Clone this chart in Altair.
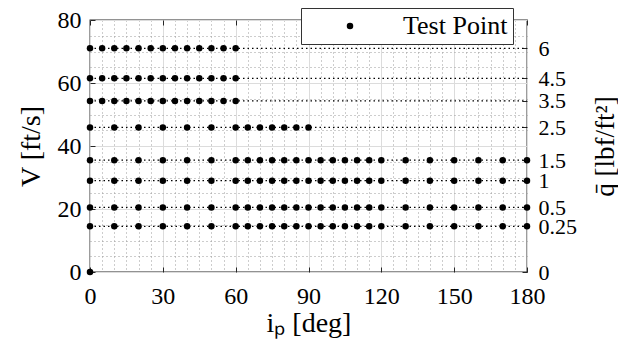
import altair as alt
import pandas as pd

# ---- data ----
q_levels = [0, 0.25, 0.5, 1, 1.5, 2.5, 3.5, 4.5, 6]
q_labels = ["0", "0.25", "0.5", "1", "1.5", "2.5", "3.5", "4.5", "6"]
V_levels = [0, 14.5, 20.5, 29.0, 35.5, 45.9, 54.3, 61.5, 71.0]

angles_high = [0, 5, 10, 15, 20, 25, 30, 35, 40, 45, 50, 55, 60]
angles_mid = [0, 10, 20, 30, 40, 50, 60, 65, 70, 75, 80, 85, 90]
angles_low = [0, 10, 20, 30, 40, 50, 60, 65, 70, 75, 80, 85, 90, 95, 100,
              105, 110, 115, 120, 130, 140, 150, 160, 170, 180]
angles_zero = [0]

row_angles = [angles_zero, angles_low, angles_low, angles_low, angles_low,
              angles_mid, angles_high, angles_high, angles_high]

x_major = [0, 30, 60, 90, 120, 150, 180]
y_major = [0, 20, 40, 60, 80]
x_minor = [5, 10, 15, 20, 25, 35, 40, 45, 50, 55, 65, 70, 75, 80, 85, 95, 100,
           105, 110, 115, 125, 130, 135, 140, 145, 155, 160, 165, 170, 175]
y_minor = [5, 10, 15, 25, 30, 35, 45, 50, 55, 65, 70, 75]

# ---- tables ----
pts = []
for V, angs in zip(V_levels, row_angles):
    for a in angs:
        pts.append({"ip": a, "V": V, "series": "Test Point"})
pts_df = pd.DataFrame(pts)

lines_df = pd.DataFrame({"V": V_levels[1:], "x0": [0] * 8, "x1": [180] * 8})

W, H = 437, 252
FONT = "Liberation Serif"
DARK = "#262626"
LBL = 24
TTL = 28

xs = alt.Scale(domain=[0, 180], nice=False, zero=False)
ys = alt.Scale(domain=[0, 80], nice=False, zero=False)

def blank_axis(**kw):
    base = dict(labels=False, ticks=False, domain=False, title=None, grid=False)
    base.update(kw)
    return alt.Axis(**base)

# minor grid
minor = alt.Chart(pts_df).mark_point(opacity=0).encode(
    x=alt.X("ip:Q", scale=xs, axis=blank_axis(grid=True, values=x_minor, gridDash=[1, 3],
                                              gridColor="#9a9a9a", gridWidth=1, orient="bottom")),
    y=alt.Y("V:Q", scale=ys, axis=blank_axis(grid=True, values=y_minor, gridDash=[1, 3],
                                             gridColor="#9a9a9a", gridWidth=1, orient="left")),
)

# major grid
major = alt.Chart(pts_df).mark_point(opacity=0).encode(
    x=alt.X("ip:Q", scale=xs, axis=blank_axis(grid=True, values=x_major,
                                              gridColor="#dcdcdc", gridWidth=1, orient="bottom")),
    y=alt.Y("V:Q", scale=ys, axis=blank_axis(grid=True, values=y_major,
                                             gridColor="#dcdcdc", gridWidth=1, orient="left")),
)

# dotted q-lines, plus inward ticks on bottom and left
qlines = alt.Chart(lines_df).mark_rule(color="black", strokeDash=[1.5, 3], strokeWidth=1.3).encode(
    x=alt.X("x0:Q", scale=xs, axis=blank_axis(ticks=True, values=x_major, orient="top",
                                              offset=-H, tickSize=5, tickColor=DARK)),
    x2="x1:Q",
    y=alt.Y("V:Q", scale=ys, axis=blank_axis(ticks=True, values=y_major, orient="right",
                                             offset=-W, tickSize=5, tickColor=DARK)),
)

# test points with labelled axes and legend
points = alt.Chart(pts_df).mark_circle(size=42, opacity=1).encode(
    x=alt.X("ip:Q", scale=xs, axis=alt.Axis(
        values=x_major, grid=False, domain=False, ticks=False, orient="bottom",
        title="iₚ [deg]", labelFontSize=LBL, titleFontSize=TTL, labelPadding=12,
        titlePadding=1, labelColor="black", titleColor="black", titleFontWeight="normal",
        labelFlush=False, labelOverlap=False)),
    y=alt.Y("V:Q", scale=ys, axis=alt.Axis(
        values=y_major, grid=False, domain=False, ticks=False, orient="left",
        title="V [ft/s]", labelFontSize=LBL, titleFontSize=TTL, labelPadding=9,
        titlePadding=12, labelColor="black", titleColor="black", titleFontWeight="normal",
        labelFlush=False, labelOverlap=False)),
    color=alt.Color("series:N", scale=alt.Scale(range=["black"]), legend=alt.Legend(
        title=None, orient="none", legendX=211, legendY=-12, fillColor="white",
        strokeColor="#333333", padding=5, symbolType="circle", symbolSize=42,
        symbolOffset=31, labelOffset=40, labelFontSize=26, labelFont=FONT,
        labelColor="black", zindex=1)),
)

# right axis with dynamic pressure labels + inward top ticks
expr = "''"
for V, lab in zip(reversed(V_levels), reversed(q_labels)):
    expr = f"datum.value == {V} ? '{lab}' : ({expr})"

right = alt.Chart(lines_df).mark_rule(opacity=0).encode(
    x=alt.X("x0:Q", scale=xs, axis=blank_axis(ticks=True, values=x_major, orient="bottom",
                                              offset=-H, tickSize=5, tickColor=DARK)),
    y=alt.Y("V:Q", scale=ys, axis=alt.Axis(
        values=V_levels, labelExpr=expr, orient="right", grid=False, domain=False, ticks=False,
        title="q̄ [lbf/ft²]", titleAngle=270, labelFontSize=22, titleFontSize=27,
        labelPadding=11, titleX=78, titleY=H / 2, titleAlign="center",
        titleBaseline="middle", labelColor="black", titleColor="black",
        titleFontWeight="normal", labelBaseline="middle", labelOverlap=False,
        labelFlush=False)),
)

# inward ticks on the right at q levels
rticks = alt.Chart(lines_df).mark_rule(opacity=0).encode(
    y=alt.Y("V:Q", scale=ys, axis=blank_axis(ticks=True, values=V_levels, orient="left",
                                             offset=-W, tickSize=5, tickColor=DARK)),
)

chart = alt.layer(minor, major, qlines, points, right, rticks).resolve_scale(
    x="shared", y="shared"
).resolve_axis(
    x="independent", y="independent"
).properties(
    width=W, height=H,
    autosize=alt.AutoSizeParams(type="none"),
    padding={"left": 82, "top": 12, "right": 91, "bottom": 80},
).configure(
    font=FONT,
).configure_view(
    stroke=DARK, strokeWidth=1.3,
).configure_axis(
    labelFont=FONT, titleFont=FONT,
)

chart.save("out.html", embed_options={"renderer": "svg", "actions": False})
